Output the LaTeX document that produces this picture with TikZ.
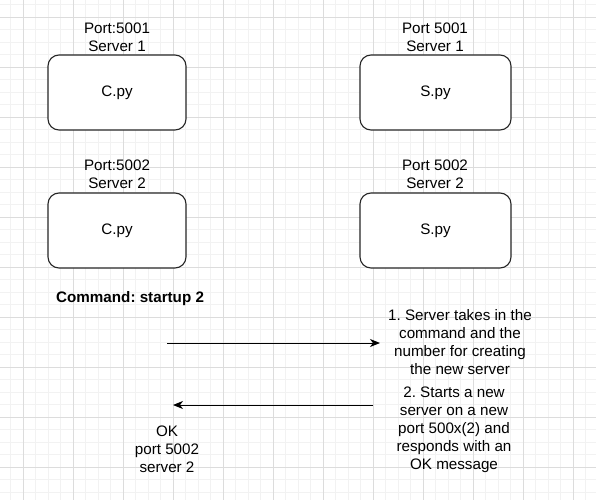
\documentclass[tikz,border=0pt]{standalone}
\usepackage{fontspec}
\setmainfont{Liberation Sans}
\usetikzlibrary{arrows.meta}
\definecolor{gridminor}{HTML}{F2F2F2}
\definecolor{gridmajor}{HTML}{DCDCDC}
\tikzset{
  box/.style={draw=black!85, line width=1.1pt, rounded corners=11pt, fill=white, minimum width=138pt, minimum height=75pt, inner sep=0pt},
  lbl/.style={align=center, inner sep=0pt, font=\fontsize{15.2}{18}\selectfont},
  conn/.style={line width=1pt, -{Stealth[length=10pt,width=8pt,inset=3pt]}},
}
\begin{document}
\frenchspacing
\begin{tikzpicture}[x=1pt,y=-1pt]
\useasboundingbox (0,0) rectangle (596,500);
\fill[white] (0,0) rectangle (596,500);
% minor grid
\foreach \i in {0,...,47} {
  \draw[gridminor, line width=0.8pt] ({10.5+12.5*\i},0) -- ({10.5+12.5*\i},500);
}
\foreach \i in {0,...,39} {
  \draw[gridminor, line width=0.8pt] (0,{4.5+12.5*\i}) -- (596,{4.5+12.5*\i});
}
% major grid
\foreach \i in {0,...,11} {
  \draw[gridmajor, line width=0.8pt] ({23+50*\i},0) -- ({23+50*\i},500);
}
\foreach \i in {0,...,9} {
  \draw[gridmajor, line width=0.8pt] (0,{17+50*\i}) -- (596,{17+50*\i});
}
% boxes
\node[box, lbl] (c1) at (117,92.5) {C.py};
\node[box, lbl] (c2) at (117,230.5) {C.py};
\node[box, lbl, minimum width=151pt] (s1) at (435.5,92.5) {S.py};
\node[box, lbl, minimum width=151pt] (s2) at (435.5,230.5) {S.py};
% labels
\node[lbl] (lc1) at (117,37) {Port:5001\\Server 1};
\node[lbl] (ls1) at (435,37) {Port 5001\\Server 1};
\node[lbl] (lc2) at (117,174) {Port:5002\\Server 2};
\node[lbl] (ls2) at (435,174) {Port 5002\\Server 2};
\node[lbl, font=\fontsize{15.2}{18}\selectfont\bfseries, anchor=west] (cmd) at (56,299) {Command: startup 2};
\node[lbl] (t1) at (460,342) {1. Server takes in the\\command and the\\number for creating\\the new server};
\node[lbl] (t2) at (454,430) {2. Starts a new\\server on a new\\port 500x(2) and\\responds with an\\OK message};
\node[lbl] (ok) at (167,449) {OK\\port 5002\\server 2};
% connectors
\coordinate (a1s) at (167,343);
\coordinate (a1e) at (380,343);
\coordinate (a2s) at (373,405);
\coordinate (a2e) at (173,405);
\draw[conn] (a1s) -- (a1e);
\draw[conn] (a2s) -- (a2e);
\end{tikzpicture}
\end{document}
